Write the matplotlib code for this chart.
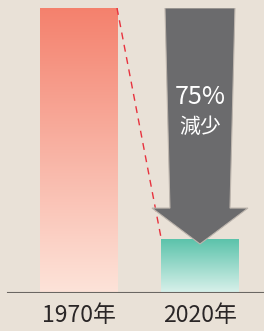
import numpy as np
import matplotlib.pyplot as plt
from matplotlib.patches import Polygon

plt.rcParams['font.family'] = ['Noto Sans CJK JP', 'DejaVu Sans']

years = ['1970年', '2020年']
values = [100, 18.6]
change_label = '75%'
change_text = '減少'

bg = '#e9e1d7'
top_cols = ['#f4816d', '#5cc3ab']
bot_cols = ['#fde3d9', '#d9f1eb']

fig = plt.figure(figsize=(2.64, 3.31), dpi=100, facecolor=bg)
ax = fig.add_axes([0, 38 / 331, 1, (331 - 38 - 8) / 331])
ax.set_facecolor(bg)
ax.set_xlim(-0.646, 1.527)
ax.set_ylim(0, 100)

x = np.arange(len(years))
w = 0.634
bars = ax.bar(x, values, width=w, color='none')

def hex2rgb(h):
    return np.array([int(h[i:i + 2], 16) / 255 for i in (1, 3, 5)])

for b, c1, c2 in zip(bars, top_cols, bot_cols):
    t = np.linspace(0, 1, 100)[:, None]
    grad = hex2rgb(c1) * (1 - t) + hex2rgb(c2) * t
    x0, h = b.get_x(), b.get_height()
    ax.imshow(grad[:, None, :], extent=[x0, x0 + b.get_width(), 0, h],
              aspect='auto', zorder=1)

# dashed connector
ax.plot([x[0] + w / 2, x[1] - w / 2], [values[0], values[1]],
        color='#e8323e', lw=1.0, ls=(0, (5, 4)), zorder=2)

# arrow
cx = x[1]
head_y = 29.8
tip_y = 17.2
arrow = Polygon([(cx - 0.288, 100), (cx + 0.288, 100), (cx + 0.247, head_y),
                 (cx + 0.395, head_y), (cx, tip_y), (cx - 0.395, head_y),
                 (cx - 0.247, head_y)], closed=True,
                facecolor='#6b6b6d', edgecolor='#bdb5ad', lw=0.8, zorder=3)
ax.add_patch(arrow)

ax.text(cx, 68.8, change_label, color='white', fontsize=18,
        ha='center', va='center', zorder=4)
ax.text(cx, 58.4, change_text, color='white', fontsize=15,
        ha='center', va='center', zorder=4)

ax.axhline(0, xmin=8 / 264, xmax=1, color='#6a6662', lw=1.5, zorder=5)

for s in ax.spines.values():
    s.set_visible(False)
ax.set_yticks([])
ax.set_xticks(x)
ax.set_xticklabels(years, fontsize=16.5, color='#2a2627')
ax.tick_params(axis='x', length=0, pad=8)

fig.savefig('out.png', dpi=100, facecolor=bg)
